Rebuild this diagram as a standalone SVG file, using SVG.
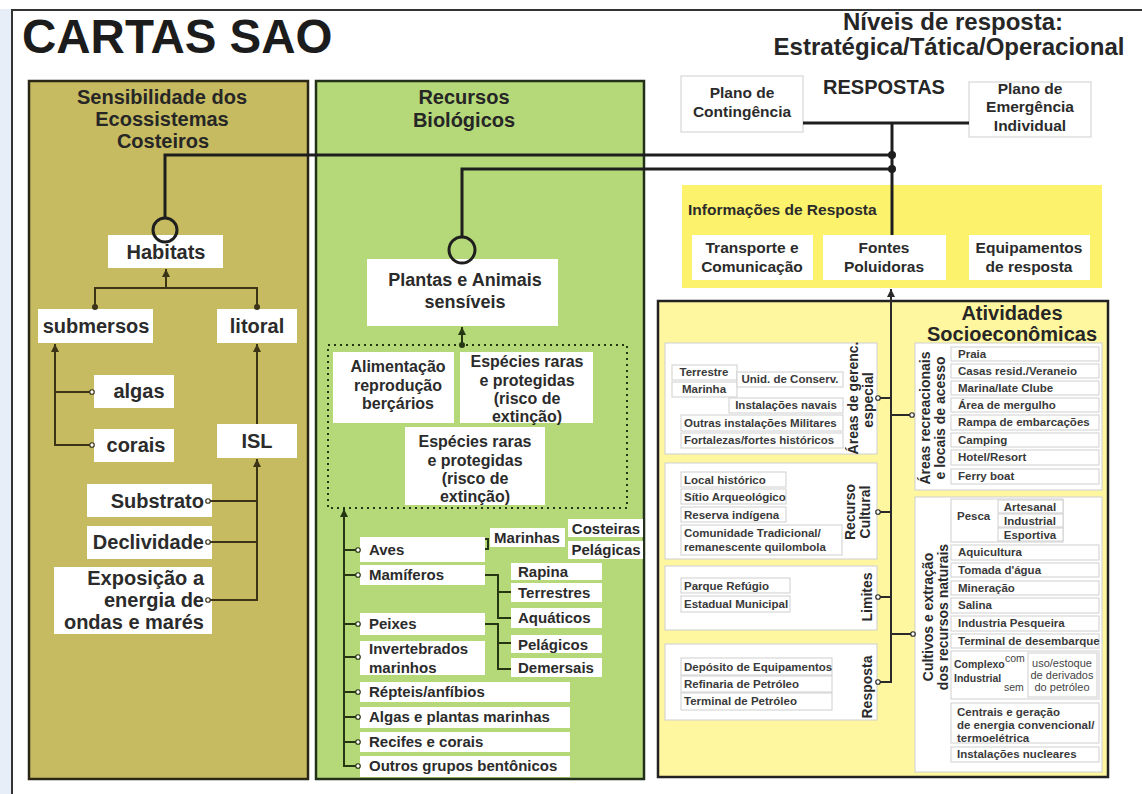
<svg xmlns="http://www.w3.org/2000/svg" width="1142" height="794" viewBox="0 0 1142 794">
<style>
text{font-family:"Liberation Sans",Arial,sans-serif;font-weight:bold}
.ttl{font-size:20px;fill:#262626;text-anchor:middle}
.lt{font-size:20px;fill:#2b2b2b}
.mt{font-size:15px;fill:#2b2b2b}
.ct{font-size:16px;fill:#2b2b2b;text-anchor:middle}
.rt{font-size:15.5px;fill:#2b2b2b;text-anchor:middle}
.st{font-size:11.5px;fill:#3a3a3a}
.vt{font-size:14px;fill:#2b2b2b;text-anchor:middle}
.wb{fill:#fff}
.sb{fill:#fff;stroke:#cfcfcf;stroke-width:1}
.lo{fill:none;stroke:#3b3416;stroke-width:2}
.lg{fill:none;stroke:#263612;stroke-width:2}
.lk{fill:none;stroke:#1e1e1e;stroke-width:3}
.lr{fill:none;stroke:#2a2a2a;stroke-width:2}
</style>
<defs>
<marker id="ahO" viewBox="0 0 10 10" refX="10" refY="5" markerWidth="8" markerHeight="8" markerUnits="userSpaceOnUse" orient="auto"><path d="M0,0 L10,5 L0,10z" fill="#3b3416"/></marker>
<marker id="ahG" viewBox="0 0 10 10" refX="10" refY="5" markerWidth="8" markerHeight="8" markerUnits="userSpaceOnUse" orient="auto"><path d="M0,0 L10,5 L0,10z" fill="#263612"/></marker>
<marker id="ahK" viewBox="0 0 10 10" refX="10" refY="5" markerWidth="8" markerHeight="8" markerUnits="userSpaceOnUse" orient="auto"><path d="M0,0 L10,5 L0,10z" fill="#2a2a2a"/></marker>
<marker id="ocO" viewBox="0 0 8 8" refX="4" refY="4" markerWidth="6" markerHeight="6" markerUnits="userSpaceOnUse"><circle cx="4" cy="4" r="3" fill="#fff" stroke="#3b3416" stroke-width="1.6"/></marker>
<marker id="ocG" viewBox="0 0 8 8" refX="4" refY="4" markerWidth="6" markerHeight="6" markerUnits="userSpaceOnUse"><circle cx="4" cy="4" r="3" fill="#fff" stroke="#263612" stroke-width="1.6"/></marker>
<marker id="ocK" viewBox="0 0 8 8" refX="4" refY="4" markerWidth="6" markerHeight="6" markerUnits="userSpaceOnUse"><circle cx="4" cy="4" r="3" fill="#fff" stroke="#2a2a2a" stroke-width="1.6"/></marker>
<marker id="dO" viewBox="0 0 8 8" refX="4" refY="4" markerWidth="6" markerHeight="6" markerUnits="userSpaceOnUse"><circle cx="4" cy="4" r="4" fill="#3b3416"/></marker>
<marker id="dG" viewBox="0 0 8 8" refX="4" refY="4" markerWidth="6" markerHeight="6" markerUnits="userSpaceOnUse"><circle cx="4" cy="4" r="4" fill="#263612"/></marker>
<marker id="dK" viewBox="0 0 8 8" refX="4" refY="4" markerWidth="8" markerHeight="8" markerUnits="userSpaceOnUse"><circle cx="4" cy="4" r="4" fill="#1e1e1e"/></marker>
</defs>

<rect x="0" y="0" width="1142" height="794" fill="#fff"/>
<rect x="0" y="9" width="11" height="785" fill="#e8eef7"/>
<path d="M12,794 V10 H1142" fill="none" stroke="#333" stroke-width="2"/>

<g id="title">
<text x="22" y="53" style="font-size:47.5px;fill:#1c1c1c">CARTAS SAO</text>
<text x="953" y="30" style="font-size:24px;fill:#262626;text-anchor:middle">Níveis de resposta:</text>
<text x="949" y="55" style="font-size:24px;fill:#262626;text-anchor:middle">Estratégica/Tática/Operacional</text>
</g>

<!-- Left panel -->
<g id="panel-sensibilidade">
<rect x="29" y="81" width="279" height="698" fill="#c6bb61" stroke="#2a2716" stroke-width="2.5"/>
<text class="ttl" x="162" y="104">Sensibilidade dos</text>
<text class="ttl" x="162" y="126">Ecossistemas</text>
<text class="ttl" x="163" y="148">Costeiros</text>
</g>
<g id="habitats"><rect class="wb" x="108" y="235" width="115" height="33"/><text class="lt" x="166" y="259" text-anchor="middle">Habitats</text></g>
<g id="submersos"><rect class="wb" x="38" y="309" width="115" height="34"/><text class="lt" x="96" y="333" text-anchor="middle">submersos</text></g>
<g id="litoral"><rect class="wb" x="217" y="309" width="80" height="34"/><text class="lt" x="257" y="333" text-anchor="middle">litoral</text></g>
<g id="algas"><rect class="wb" x="94" y="375" width="80" height="33"/><text class="lt" x="139" y="398" text-anchor="middle">algas</text></g>
<g id="corais"><rect class="wb" x="94" y="429" width="80" height="33"/><text class="lt" x="136" y="452" text-anchor="middle">corais</text></g>
<g id="isl"><rect class="wb" x="217" y="424" width="80" height="34"/><text class="lt" x="257" y="448" text-anchor="middle">ISL</text></g>
<g id="substrato"><rect class="wb" x="87" y="484" width="125" height="33"/><text class="lt" x="204" y="508" text-anchor="end">Substrato</text></g>
<g id="declividade"><rect class="wb" x="87" y="526" width="125" height="33"/><text class="lt" x="204" y="549" text-anchor="end">Declividade</text></g>
<g id="exposicao"><rect class="wb" x="54" y="567" width="158" height="67"/>
<text class="lt" x="204" y="585" text-anchor="end">Exposição a</text>
<text class="lt" x="204" y="607" text-anchor="end">energia de</text>
<text class="lt" x="204" y="629" text-anchor="end">ondas e marés</text></g>

<!-- Middle panel -->
<g id="panel-recursos">
<rect x="316" y="81" width="328" height="698" fill="#b5d879" stroke="#22301a" stroke-width="2.5"/>
<text class="ttl" x="464" y="104">Recursos</text>
<text class="ttl" x="464" y="127">Biológicos</text>
</g>
<g id="plantas"><rect class="wb" x="367" y="259" width="191" height="67"/>
<text class="ct" x="465" y="286" style="font-size:18px">Plantas e Animais</text>
<text class="ct" x="465" y="308" style="font-size:18px">sensíveis</text></g>
<g id="grupo-especies"><rect x="328" y="345" width="299" height="163" fill="none" stroke="#263612" stroke-width="2" stroke-dasharray="2 4"/></g>
<g id="alimentacao"><rect class="wb" x="333" y="352" width="121" height="71"/>
<text class="ct" x="398" y="372">Alimentação</text>
<text class="ct" x="398" y="391">reprodução</text>
<text class="ct" x="398" y="409">berçários</text></g>
<g id="especies1"><rect class="wb" x="460" y="352" width="133" height="71"/>
<text class="ct" x="527" y="367">Espécies raras</text>
<text class="ct" x="527" y="386">e protegidas</text>
<text class="ct" x="527" y="404">(risco de</text>
<text class="ct" x="527" y="422">extinção)</text></g>
<g id="especies2"><rect class="wb" x="405" y="427" width="140" height="78"/>
<text class="ct" x="475" y="447">Espécies raras</text>
<text class="ct" x="475" y="466">e protegidas</text>
<text class="ct" x="475" y="484">(risco de</text>
<text class="ct" x="475" y="502">extinção)</text></g>
<g id="aves"><rect class="wb" x="360" y="537" width="125" height="25"/><text class="mt" x="369" y="555">Aves</text></g>
<g id="mamiferos"><rect class="wb" x="360" y="565" width="125" height="20"/><text class="mt" x="369" y="580">Mamíferos</text></g>
<g id="peixes"><rect class="wb" x="360" y="613" width="125" height="22"/><text class="mt" x="369" y="629">Peixes</text></g>
<g id="invertebrados"><rect class="wb" x="360" y="641" width="125" height="34"/><text class="mt" x="369" y="654">Invertebrados</text><text class="mt" x="369" y="673">marinhos</text></g>
<g id="repteis"><rect class="wb" x="360" y="682" width="210" height="20"/><text class="mt" x="369" y="697">Répteis/anfíbios</text></g>
<g id="algas-plantas"><rect class="wb" x="360" y="707" width="210" height="21"/><text class="mt" x="369" y="722">Algas e plantas marinhas</text></g>
<g id="recifes"><rect class="wb" x="360" y="732" width="210" height="20"/><text class="mt" x="369" y="747">Recifes e corais</text></g>
<g id="outros"><rect class="wb" x="360" y="756" width="210" height="21"/><text class="mt" x="369" y="771">Outros grupos bentônicos</text></g>
<g id="marinhas"><rect class="wb" x="490" y="528" width="75" height="19"/><text class="mt" x="527" y="543" text-anchor="middle">Marinhas</text></g>
<g id="costeiras"><rect class="wb" x="568" y="519" width="75" height="18"/><text class="mt" x="606" y="534" text-anchor="middle">Costeiras</text></g>
<g id="pelagicas"><rect class="wb" x="568" y="541" width="75" height="18"/><text class="mt" x="606" y="555" text-anchor="middle">Pelágicas</text></g>
<g id="rapina"><rect class="wb" x="511" y="563" width="91" height="17"/><text class="mt" x="518" y="577">Rapina</text></g>
<g id="terrestres"><rect class="wb" x="511" y="583" width="91" height="19"/><text class="mt" x="518" y="598">Terrestres</text></g>
<g id="aquaticos"><rect class="wb" x="511" y="608" width="91" height="20"/><text class="mt" x="518" y="623">Aquáticos</text></g>
<g id="pelagicos"><rect class="wb" x="511" y="635" width="91" height="18"/><text class="mt" x="518" y="650">Pelágicos</text></g>
<g id="demersais"><rect class="wb" x="511" y="658" width="91" height="19"/><text class="mt" x="518" y="673">Demersais</text></g>

<!-- Top right -->
<g id="plano-contingencia"><rect class="sb" x="681" y="76" width="122" height="56"/>
<text class="rt" x="742" y="98">Plano de</text><text class="rt" x="742" y="117">Contingência</text></g>
<g id="respostas"><text x="884" y="94" style="font-size:20px;fill:#262626;text-anchor:middle">RESPOSTAS</text></g>
<g id="plano-emergencia"><rect class="sb" x="969" y="82" width="122" height="55"/>
<text class="rt" x="1030" y="94">Plano de</text><text class="rt" x="1030" y="112">Emergência</text><text class="rt" x="1030" y="131">Individual</text></g>

<g id="informacoes"><rect x="682" y="185" width="420" height="103" fill="#fdf26c"/>
<text x="688" y="215" style="font-size:15.5px;fill:#2b2b2b">Informações de Resposta</text></g>
<g id="transporte"><rect class="wb" x="692" y="235" width="121" height="45"/><text class="rt" x="752" y="253">Transporte e</text><text class="rt" x="752" y="272">Comunicação</text></g>
<g id="fontes"><rect class="wb" x="823" y="235" width="123" height="45"/><text class="rt" x="884" y="253">Fontes</text><text class="rt" x="884" y="272">Poluidoras</text></g>
<g id="equipamentos"><rect class="wb" x="969" y="235" width="121" height="45"/><text class="rt" x="1029" y="253">Equipamentos</text><text class="rt" x="1029" y="272">de resposta</text></g>

<!-- Atividades -->
<g id="atividades"><rect x="658" y="301" width="450" height="476" fill="#fff6a0" stroke="#222" stroke-width="2.5"/>
<text class="ttl" x="1012" y="320">Atividades</text>
<text class="ttl" x="1012" y="341">Socioeconômicas</text></g>

<g id="areas-gerenc"><rect class="sb" x="665" y="343" width="212" height="111"/>
<rect class="sb" x="672" y="365" width="65" height="15"/><text class="st" x="704" y="376" text-anchor="middle">Terrestre</text>
<rect class="sb" x="672" y="382" width="65" height="15"/><text class="st" x="704" y="393" text-anchor="middle">Marinha</text>
<rect class="sb" x="737" y="372" width="106" height="15"/><text class="st" x="790" y="383" text-anchor="middle">Unid. de Conserv.</text>
<rect class="sb" x="729" y="398" width="114" height="15"/><text class="st" x="786" y="409" text-anchor="middle">Instalações navais</text>
<rect class="sb" x="681" y="415" width="162" height="16"/><text class="st" x="684" y="427">Outras instalações Militares</text>
<rect class="sb" x="681" y="433" width="162" height="15"/><text class="st" x="684" y="444">Fortalezas/fortes históricos</text>
<text class="vt" transform="translate(858,398) rotate(-90)">Áreas de gerenc.</text>
<text class="vt" transform="translate(873,400) rotate(-90)">especial</text></g>

<g id="recurso-cultural"><rect class="sb" x="665" y="463" width="212" height="96"/>
<rect class="sb" x="681" y="472" width="105" height="15"/><text class="st" x="684" y="484">Local histórico</text>
<rect class="sb" x="681" y="489" width="105" height="15"/><text class="st" x="684" y="501">Sítio Arqueológico</text>
<rect class="sb" x="681" y="507" width="105" height="15"/><text class="st" x="684" y="519">Reserva indígena</text>
<rect class="sb" x="681" y="525" width="161" height="30"/><text class="st" x="684" y="537">Comunidade Tradicional/</text><text class="st" x="684" y="551">remanescente quilombola</text>
<text class="vt" transform="translate(855,512) rotate(-90)">Recurso</text>
<text class="vt" transform="translate(870,512) rotate(-90)">Cultural</text></g>

<g id="limites"><rect class="sb" x="665" y="566" width="212" height="64"/>
<rect class="sb" x="681" y="578" width="109" height="15"/><text class="st" x="684" y="590">Parque Refúgio</text>
<rect class="sb" x="681" y="596" width="109" height="16"/><text class="st" x="684" y="608">Estadual Municipal</text>
<text class="vt" transform="translate(872,597) rotate(-90)">Limites</text></g>

<g id="resposta"><rect class="sb" x="665" y="644" width="212" height="76"/>
<rect class="sb" x="681" y="658" width="151" height="17"/><text class="st" x="684" y="671">Depósito de Equipamentos</text>
<rect class="sb" x="681" y="676" width="151" height="16"/><text class="st" x="684" y="688">Refinaria de Petróleo</text>
<rect class="sb" x="681" y="693" width="151" height="17"/><text class="st" x="684" y="705">Terminal de Petróleo</text>
<text class="vt" transform="translate(872,687) rotate(-90)">Resposta</text></g>

<g id="areas-recreacionais"><rect class="sb" x="915" y="343" width="187" height="147"/>
<rect class="sb" x="951" y="347" width="148" height="14"/><text class="st" x="958" y="358">Praia</text>
<rect class="sb" x="951" y="364" width="148" height="14"/><text class="st" x="958" y="375">Casas resid./Veraneio</text>
<rect class="sb" x="951" y="381" width="148" height="14"/><text class="st" x="958" y="392">Marina/Iate Clube</text>
<rect class="sb" x="951" y="398" width="148" height="14"/><text class="st" x="958" y="409">Área de mergulho</text>
<rect class="sb" x="951" y="415" width="148" height="15"/><text class="st" x="958" y="426">Rampa de embarcações</text>
<rect class="sb" x="951" y="433" width="148" height="14"/><text class="st" x="958" y="444">Camping</text>
<rect class="sb" x="951" y="450" width="148" height="15"/><text class="st" x="958" y="461">Hotel/Resort</text>
<rect class="sb" x="951" y="469" width="148" height="15"/><text class="st" x="958" y="480">Ferry boat</text>
<text class="vt" transform="translate(930,418) rotate(-90)">Áreas recreacionais</text>
<text class="vt" transform="translate(945,418) rotate(-90)">e locais de acesso</text></g>

<g id="cultivos"><rect class="sb" x="915" y="497" width="187" height="275"/>
<rect class="sb" x="951" y="499" width="112" height="43"/><text class="st" x="957" y="520">Pesca</text>
<rect class="sb" x="998" y="500" width="65" height="13"/><text class="st" x="1030" y="511" text-anchor="middle">Artesanal</text>
<rect class="sb" x="998" y="514" width="65" height="13"/><text class="st" x="1030" y="525" text-anchor="middle">Industrial</text>
<rect class="sb" x="998" y="528" width="65" height="13"/><text class="st" x="1030" y="539" text-anchor="middle">Esportiva</text>
<rect class="sb" x="951" y="545" width="148" height="15"/><text class="st" x="958" y="556">Aquicultura</text>
<rect class="sb" x="951" y="563" width="148" height="14"/><text class="st" x="958" y="574">Tomada d'água</text>
<rect class="sb" x="951" y="581" width="148" height="14"/><text class="st" x="958" y="592">Mineração</text>
<rect class="sb" x="951" y="598" width="148" height="15"/><text class="st" x="958" y="609">Salina</text>
<rect class="sb" x="951" y="616" width="148" height="15"/><text class="st" x="958" y="627">Industria Pesqueira</text>
<rect class="sb" x="951" y="634" width="148" height="14"/><text class="st" x="958" y="645">Terminal de desembarque</text>
<rect class="sb" x="951" y="651" width="148" height="48"/>
<text class="st" x="954" y="668" style="font-size:10.5px">Complexo</text>
<text class="st" x="954" y="682" style="font-size:10.5px">Industrial</text>
<text x="1005" y="662" style="font-size:10.5px;font-weight:normal;fill:#444">com</text>
<text x="1004" y="691" style="font-size:10.5px;font-weight:normal;fill:#444">sem</text>
<rect class="sb" x="1028" y="653" width="69" height="44"/>
<text x="1062" y="667" style="font-size:11px;font-weight:normal;fill:#444;text-anchor:middle">uso/estoque</text>
<text x="1062" y="679" style="font-size:11px;font-weight:normal;fill:#444;text-anchor:middle">de derivados</text>
<text x="1062" y="691" style="font-size:11px;font-weight:normal;fill:#444;text-anchor:middle">do petróleo</text>
<rect class="sb" x="951" y="703" width="148" height="40"/>
<text class="st" x="957" y="716">Centrais e geração</text>
<text class="st" x="957" y="729">de energia convencional/</text>
<text class="st" x="957" y="742">termoelétrica</text>
<rect class="sb" x="951" y="747" width="148" height="15"/><text class="st" x="957" y="758">Instalações nucleares</text>
<text class="vt" transform="translate(933,617) rotate(-90)">Cultivos e extração</text>
<text class="vt" transform="translate(948,617) rotate(-90)">dos recursos naturais</text></g>

<!-- Connectors -->
<g id="connectors">
<path class="lk" d="M803,123 H969"/>
<path class="lk" d="M892,123 V235"/>
<path class="lk" d="M165,218 V155 H892" marker-end="url(#dK)"/>
<path class="lk" d="M462,237 V169 H892" marker-end="url(#dK)"/>
<circle cx="165" cy="230" r="12" fill="none" stroke="#1e1e1e" stroke-width="3"/>
<circle cx="462" cy="250" r="13" fill="none" stroke="#1e1e1e" stroke-width="3"/>

<path class="lo" d="M95,307 V288 H257 V307" marker-start="url(#dO)" marker-end="url(#dO)"/>
<path class="lo" d="M166,288 V269" marker-end="url(#ahO)"/>
<path class="lo" d="M92,392 H55" marker-start="url(#ocO)"/>
<path class="lo" d="M92,445 H55 V344" marker-start="url(#ocO)" marker-end="url(#ahO)"/>
<path class="lo" d="M257,424 V344" marker-end="url(#ahO)"/>
<path class="lo" d="M208,501 H257" marker-start="url(#ocO)"/>
<path class="lo" d="M208,542 H257" marker-start="url(#ocO)"/>
<path class="lo" d="M208,600 H257 V459" marker-start="url(#ocO)" marker-end="url(#ahO)"/>

<path class="lg" d="M462,345 V327" marker-start="url(#dG)" marker-end="url(#ahG)"/>
<path class="lg" d="M358,766 H344 V509" marker-start="url(#ocG)" marker-end="url(#ahG)"/>
<path class="lg" d="M358,550 H344" marker-start="url(#ocG)"/>
<path class="lg" d="M358,575 H344" marker-start="url(#ocG)"/>
<path class="lg" d="M358,624 H344" marker-start="url(#ocG)"/>
<path class="lg" d="M358,657 H344" marker-start="url(#ocG)"/>
<path class="lg" d="M358,692 H344" marker-start="url(#ocG)"/>
<path class="lg" d="M358,717 H344" marker-start="url(#ocG)"/>
<path class="lg" d="M358,742 H344" marker-start="url(#ocG)"/>
<path class="lg" d="M485,539 H488 V549 H485"/>
<path class="lg" d="M485,575 H498 V618 H511 M498,592 H511"/>
<path class="lg" d="M485,624 H498 V669 H511 M498,643 H511"/>

<path class="lr" d="M878,682 H891 V289" marker-start="url(#ocK)" marker-end="url(#ahK)"/>
<path class="lr" d="M878,398 H891" marker-start="url(#ocK)"/>
<path class="lr" d="M878,512 H891" marker-start="url(#ocK)"/>
<path class="lr" d="M878,597 H891" marker-start="url(#ocK)"/>
<path class="lr" d="M891,415 H912" marker-end="url(#ocK)"/>
<path class="lr" d="M891,634 H913" marker-end="url(#ocK)"/>
</g>
</svg>
